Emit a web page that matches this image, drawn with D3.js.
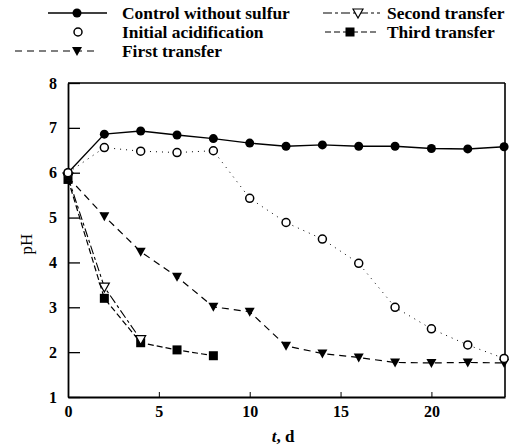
<!DOCTYPE html>
<html><head><meta charset="utf-8">
<script src="https://cdn.jsdelivr.net/npm/d3@7"></script>
<style>body{margin:0;background:#fff}svg{display:block}text{fill:#000}</style>
</head><body>
<svg id="c" width="524" height="447"></svg>
<script>
const xTicks = [0, 5, 10, 15, 20];
const yTicks = [1, 2, 3, 4, 5, 6, 7, 8];
const tControl = [0, 2, 4, 6, 8, 10, 12, 14, 16, 18, 20, 22, 24];
const control = [6.0, 6.86, 6.93, 6.84, 6.76, 6.66, 6.59, 6.62, 6.59, 6.59, 6.54, 6.53, 6.58];
const tInitial = [0, 2, 4, 6, 8, 10, 12, 14, 16, 18, 20, 22, 24];
const initial = [6.0, 6.56, 6.48, 6.45, 6.49, 5.43, 4.89, 4.52, 3.98, 3.0, 2.52, 2.16, 1.86];
const tFirst = [0, 2, 4, 6, 8, 10, 12, 14, 16, 18, 20, 22, 24];
const first = [5.9, 5.03, 4.24, 3.68, 3.01, 2.9, 2.14, 1.97, 1.88, 1.77, 1.76, 1.77, 1.76];
const tSecond = [0, 2, 4];
const second = [5.9, 3.45, 2.28];
const tThird = [0, 2, 4, 6, 8];
const third = [5.85, 3.2, 2.21, 2.05, 1.92];

const svg = d3.select("#c").attr("font-family", "Liberation Serif, serif").attr("font-weight", "bold");
const L = 68, R = 505, T = 83, B = 397;
const x = d3.scaleLinear().domain([0, 24.05]).range([L, R]);
const y = d3.scaleLinear().domain([1, 8]).range([B, T]);

svg.append("line").attr("x1", L).attr("x2", R).attr("y1", T).attr("y2", T).attr("stroke", "#000").attr("stroke-width", 1.5);
svg.append("line").attr("x1", R).attr("x2", R).attr("y1", T).attr("y2", B).attr("stroke", "#000").attr("stroke-width", 1.6);

const yAxis = d3.axisLeft(y).tickValues(yTicks).tickFormat(d3.format("d")).tickSizeInner(-12).tickSizeOuter(0).tickPadding(11);
const gy = svg.append("g").attr("transform", `translate(${L},0)`).call(yAxis);
gy.attr("font-family", null).attr("font-size", 16);
gy.select(".domain").attr("stroke-width", 1.8);
gy.selectAll(".tick line").attr("stroke-width", 1.3);

const xAxis = d3.axisBottom(x).tickValues(xTicks).tickFormat(d3.format("d")).tickSizeInner(-5).tickSizeOuter(0).tickPadding(9);
const gx = svg.append("g").attr("transform", `translate(0,${B})`).call(xAxis);
gx.attr("font-family", null).attr("font-size", 16);
gx.select(".domain").attr("stroke-width", 1.8);

svg.append("text").attr("transform", `translate(32,244) rotate(-90)`).attr("text-anchor", "middle")
  .attr("font-size", 17).attr("font-weight", "normal").text("pH");
const xl = svg.append("text").attr("x", 283).attr("y", 442).attr("text-anchor", "middle").attr("font-size", 17);
xl.append("tspan").attr("font-style", "italic").text("t");
xl.append("tspan").text(", d");

const line = d3.line().x(d => x(d[0])).y(d => y(d[1]));
const zip = (a, b) => a.map((v, i) => [v, b[i]]);

const series = [
  {t: tControl, v: control, dash: null, w: 1.4, m: "fcircle"},
  {t: tInitial, v: initial, dash: "1,5", w: 1, m: "ocircle"},
  {t: tFirst, v: first, dash: "7,5", w: 1.2, m: "ftri"},
  {t: tSecond, v: second, dash: "9,3,3,3", w: 1.1, m: "otri"},
  {t: tThird, v: third, dash: "6,3", w: 1.2, m: "fsq"}
];

function marker(g, type, cx, cy) {
  if (type === "fcircle") g.append("circle").attr("cx", cx).attr("cy", cy).attr("r", 4.5).attr("fill", "#000");
  else if (type === "ocircle") g.append("circle").attr("cx", cx).attr("cy", cy).attr("r", 4).attr("fill", "#fff").attr("stroke", "#000").attr("stroke-width", 1.5);
  else if (type === "ftri") g.append("path").attr("d", `M${cx-5},${cy-4}L${cx+5},${cy-4}L${cx},${cy+5}Z`).attr("fill", "#000");
  else if (type === "otri") g.append("path").attr("d", `M${cx-5},${cy-4}L${cx+5},${cy-4}L${cx},${cy+5}Z`).attr("fill", "#fff").attr("stroke", "#000").attr("stroke-width", 1.2);
  else if (type === "fsq") g.append("rect").attr("x", cx-4.5).attr("y", cy-4.5).attr("width", 9).attr("height", 9).attr("fill", "#000");
}

series.forEach(s => {
  svg.append("path").datum(zip(s.t, s.v)).attr("d", line).attr("fill", "none").attr("stroke", "#000")
    .attr("stroke-width", s.w).attr("stroke-dasharray", s.dash);
});
[4, 3, 2, 0, 1].forEach(i => {
  const s = series[i];
  const g = svg.append("g");
  zip(s.t, s.v).forEach(p => marker(g, s.m, x(p[0]), y(p[1])));
});

const leg = [
  {x0: 48, x1: 107, mx: 77, y: 13, s: 0, label: "Control without sulfur", tx: 122},
  {x0: 48, x1: 107, mx: 78, y: 32, s: 1, label: "Initial acidification", tx: 122, noLine: true},
  {x0: 15, x1: 97, mx: 77, y: 51, s: 2, label: "First transfer", tx: 122},
  {x0: 323, x1: 380, mx: 358, y: 13, s: 3, label: "Second transfer", tx: 387},
  {x0: 325, x1: 377, mx: 350, y: 32, s: 4, label: "Third transfer", tx: 387}
];
leg.forEach(l => {
  const s = series[l.s];
  if (!l.noLine) svg.append("line").attr("x1", l.x0).attr("x2", l.x1).attr("y1", l.y).attr("y2", l.y)
    .attr("stroke", "#000").attr("stroke-width", s.w).attr("stroke-dasharray", s.dash);
  marker(svg.append("g"), s.m, l.mx, l.y);
  svg.append("text").attr("x", l.tx).attr("y", l.y + 6).attr("font-size", 17.4).text(l.label);
});
</script>
</body></html>
